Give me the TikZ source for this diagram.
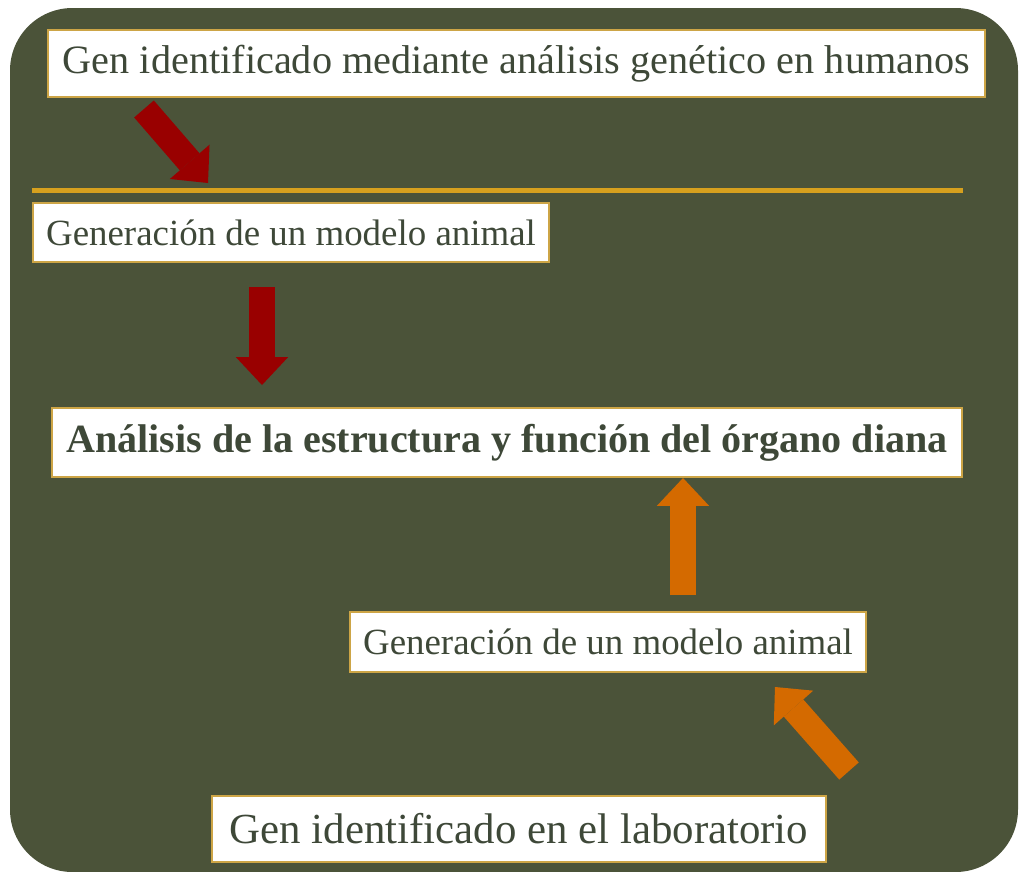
\documentclass[tikz,border=0pt]{standalone}
\usepackage{fontspec}
\setmainfont{Liberation Serif}
\usetikzlibrary{arrows.meta}

\definecolor{bgolive}{RGB}{75,83,57}
\definecolor{boxgold}{RGB}{205,165,70}
\definecolor{linegold}{RGB}{214,160,30}
\definecolor{textgray}{RGB}{62,72,56}
\definecolor{arrowred}{RGB}{153,0,0}
\definecolor{arroworange}{RGB}{212,106,0}

\begin{document}
\begin{tikzpicture}[
    x=0.02cm, y=-0.02cm,
    box/.style={rectangle, draw=boxgold, line width=0.8pt, fill=white, text=textgray, inner sep=0pt},
    blockarrow/.style={line width=0.52cm, -{Triangle[length=0.56cm, width=1.05cm, line width=0pt]}},
    redarrow/.style={blockarrow, arrowred},
    orangearrow/.style={blockarrow, arroworange}
]
    \useasboundingbox (0,0) rectangle (1019,872);

    % Background
    \fill[bgolive, rounded corners=1.25cm] (10,8) rectangle (1018,872);

    % Human genetics
    \node[box, minimum width=18.74cm, minimum height=1.34cm, font=\fontsize{22.9}{26}\selectfont] (human) at (516.5,63.5) {Gen identificado mediante análisis genético en humanos};

    % Separator
    \draw[linegold, line width=0.1cm] (32,190) -- (963,190);

    % Animal model (left)
    \node[box, minimum width=10.32cm, minimum height=1.18cm, font=\fontsize{21}{24}\selectfont] (modelL) at (291,232.5) {Generación de un modelo animal};

    % Target organ
    \node[box, minimum width=18.2cm, minimum height=1.38cm, font=\bfseries\fontsize{22.8}{26}\selectfont] (organ) at (507,442.5) {Análisis de la estructura y función del órgano diana};

    % Animal model (right)
    \node[box, minimum width=10.32cm, minimum height=1.2cm, font=\fontsize{21}{24}\selectfont] (modelR) at (608,642) {Generación de un modelo animal};

    % Lab gene
    \node[box, minimum width=12.28cm, minimum height=1.32cm, font=\fontsize{24.4}{28}\selectfont] (lab) at (519,829) {Gen identificado en el laboratorio};

    % Arrow ends
    \coordinate (humanout) at (144,109);
    \coordinate (sepin) at (208,183);
    \coordinate (modelLout) at (262,287);
    \coordinate (organinL) at (262,385);
    \coordinate (modelRout) at (683,595);
    \coordinate (organinR) at (683,478);
    \coordinate (labout) at (849,771);
    \coordinate (modelRin) at (775,687);

    \draw[redarrow] (humanout) -- (sepin);
    \draw[redarrow] (modelLout) -- (organinL);
    \draw[orangearrow] (modelRout) -- (organinR);
    \draw[orangearrow] (labout) -- (modelRin);
\end{tikzpicture}
\end{document}
